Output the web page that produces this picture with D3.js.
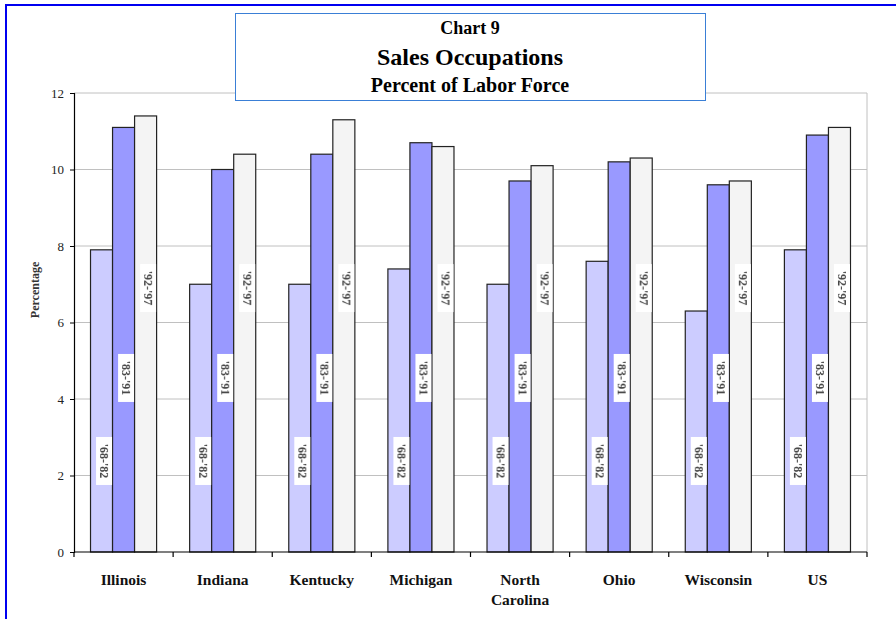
<!DOCTYPE html>
<html>
<head>
<meta charset="utf-8">
<script src="https://cdn.jsdelivr.net/npm/d3@7"></script>
<style>
  html, body { margin: 0; padding: 0; background: #fff; }
  svg text { font-family: "Liberation Serif", "Times New Roman", Times, serif; }
</style>
</head>
<body>
<svg id="chart" width="896" height="619"></svg>
<script>
// Sales occupations as a percent of the labor force, by state and period
const categories = [["Illinois"], ["Indiana"], ["Kentucky"], ["Michigan"], ["North", "Carolina"], ["Ohio"], ["Wisconsin"], ["US"]];
const seriesNames = ["'68-'82", "'83-'91", "'92-'97"];
const values6882 = [7.9, 7.0, 7.0, 7.4, 7.0, 7.6, 6.3, 7.9];
const values8391 = [11.1, 10.0, 10.4, 10.7, 9.7, 10.2, 9.6, 10.9];
const values9297 = [11.4, 10.4, 11.3, 10.6, 10.1, 10.3, 9.7, 11.1];
// value level at which each series' rotated label sits
const labelLevels = [2.38, 4.55, 6.9];
const yTicks = [0, 2, 4, 6, 8, 10, 12];
const colors = ["#ccccff", "#9999ff", "#f4f4f4"];

const series = [values6882, values8391, values9297];
const FONT = "'Liberation Serif', 'Times New Roman', Times, serif";

const svg = d3.select("#chart");

// outer frame (top and left edges)
svg.append("line").attr("x1", 6).attr("x2", 896).attr("y1", 5).attr("y2", 5)
  .attr("stroke", "#0000f0").attr("stroke-width", 2);
svg.append("line").attr("x1", 6).attr("x2", 6).attr("y1", 4).attr("y2", 619)
  .attr("stroke", "#0000f0").attr("stroke-width", 2);

const plot = { left: 74, right: 867, top: 93, bottom: 552 };

const x = d3.scaleBand()
  .domain(d3.range(categories.length))
  .range([plot.left, plot.right])
  .paddingInner(0).paddingOuter(0);

const inner = d3.scaleBand()
  .domain(d3.range(series.length))
  .range([0, x.bandwidth()])
  .paddingInner(0)
  .paddingOuter(0.75);

const y = d3.scaleLinear().domain([0, 12]).range([plot.bottom, plot.top]);

// gridlines
svg.append("g").selectAll("line")
  .data(yTicks.filter(d => d > 0))
  .join("line")
  .attr("x1", plot.left).attr("x2", plot.right)
  .attr("y1", d => y(d)).attr("y2", d => y(d))
  .attr("stroke", "#c0c0c0").attr("stroke-width", 1);

// right edge of plot area
svg.append("line")
  .attr("x1", plot.right).attr("x2", plot.right)
  .attr("y1", plot.top).attr("y2", plot.bottom)
  .attr("stroke", "#c0c0c0").attr("stroke-width", 1);

// bars
const groups = svg.append("g").selectAll("g")
  .data(categories.map((c, i) => i))
  .join("g")
  .attr("transform", i => `translate(${x(i)},0)`);

groups.selectAll("rect")
  .data(i => series.map((s, k) => ({ k, v: s[i] })))
  .join("rect")
  .attr("x", d => inner(d.k))
  .attr("y", d => y(d.v))
  .attr("width", inner.bandwidth())
  .attr("height", d => y(0) - y(d.v))
  .attr("fill", d => colors[d.k])
  .attr("stroke", "#222")
  .attr("stroke-width", 1.2);

// rotated series labels inside the bars
const boxW = 16, boxH = 48;
const labels = groups.selectAll("g.lbl")
  .data(i => series.map((s, k) => ({ k })))
  .join("g")
  .attr("class", "lbl")
  .attr("transform", d => `translate(${inner(d.k) + inner.bandwidth() - boxW / 2 - 0.5},${y(labelLevels[d.k])})`);

labels.append("rect")
  .attr("x", -boxW / 2).attr("y", -boxH / 2)
  .attr("width", boxW).attr("height", boxH)
  .attr("fill", "#fff");

labels.append("text")
  .attr("transform", "rotate(90)")
  .attr("text-anchor", "middle")
  .attr("dy", "0.35em")
  .attr("font-family", FONT)
  .attr("font-size", 12)
  .attr("font-weight", "bold")
  .attr("fill", "#444")
  .style("filter", "blur(0.4px)")
  .text(d => seriesNames[d.k]);

// y axis
const yAxis = d3.axisLeft(y).tickValues(yTicks).tickSize(4).tickPadding(6).tickFormat(d3.format("d"));
const yg = svg.append("g").attr("transform", `translate(${plot.left},0)`).call(yAxis);
yg.attr("font-family", FONT);
yg.select(".domain").attr("stroke", "#000").attr("stroke-width", 1.2);
yg.selectAll(".tick line").attr("stroke", "#000");
yg.selectAll(".tick text").attr("font-size", 13).attr("font-family", FONT).attr("fill", "#222");

// x axis with ticks at category boundaries
svg.append("line")
  .attr("x1", plot.left).attr("x2", plot.right)
  .attr("y1", plot.bottom).attr("y2", plot.bottom)
  .attr("stroke", "#000").attr("stroke-width", 1.2);
svg.append("g").selectAll("line")
  .data(d3.range(categories.length + 1))
  .join("line")
  .attr("x1", i => plot.left + i * x.step()).attr("x2", i => plot.left + i * x.step())
  .attr("y1", plot.bottom).attr("y2", plot.bottom + 5)
  .attr("stroke", "#000").attr("stroke-width", 1.2);

// category labels
const xl = svg.append("g").selectAll("text")
  .data(categories.map((c, i) => ({ c, i })))
  .join("text")
  .attr("x", d => x(d.i) + x.bandwidth() / 2)
  .attr("y", 585)
  .attr("text-anchor", "middle")
  .attr("font-family", FONT)
  .attr("font-size", 15.5)
  .attr("font-weight", "bold")
  .attr("fill", "#111");
xl.selectAll("tspan")
  .data(d => d.c)
  .join("tspan")
  .attr("x", function () { return d3.select(this.parentNode).attr("x"); })
  .attr("dy", (d, j) => j === 0 ? 0 : 20)
  .text(d => d);

// y axis title
svg.append("text")
  .attr("transform", "translate(39,290) rotate(-90)")
  .attr("text-anchor", "middle")
  .attr("font-family", FONT)
  .attr("font-size", 12)
  .attr("font-weight", "bold")
  .attr("fill", "#333")
  .text("Percentage");

// title box
svg.append("rect")
  .attr("x", 235.5).attr("y", 13.5).attr("width", 470).attr("height", 87)
  .attr("fill", "#fff").attr("stroke", "#3a7fd6").attr("stroke-width", 1);
const titles = [
  { t: "Chart 9", y: 34, s: 18 },
  { t: "Sales Occupations", y: 65, s: 24 },
  { t: "Percent of Labor Force", y: 92, s: 20 }
];
svg.append("g").selectAll("text")
  .data(titles)
  .join("text")
  .attr("x", 470).attr("y", d => d.y)
  .attr("text-anchor", "middle")
  .attr("font-family", FONT)
  .attr("font-size", d => d.s)
  .attr("font-weight", "bold")
  .attr("fill", "#000")
  .text(d => d.t);
</script>
</body>
</html>
